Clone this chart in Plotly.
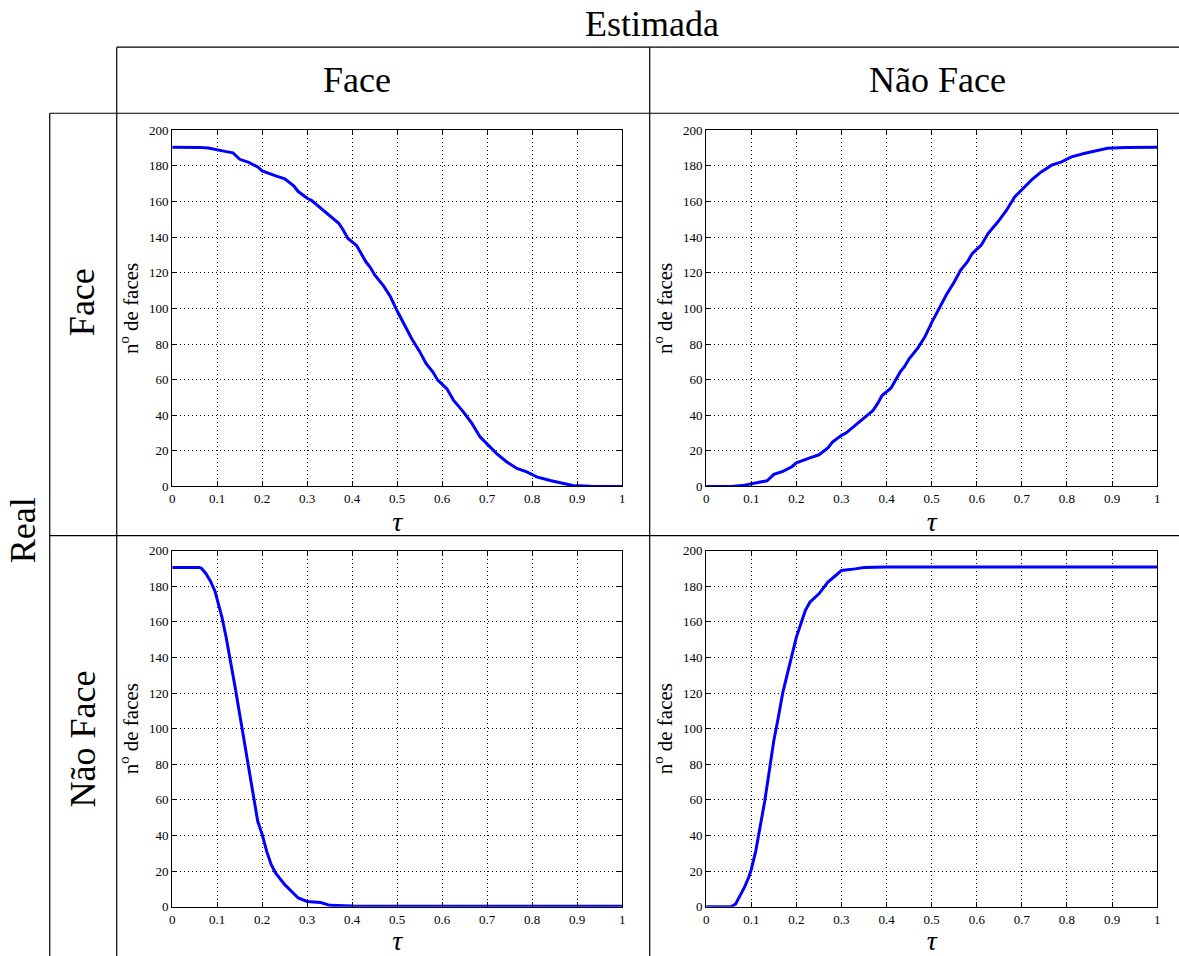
import plotly.graph_objects as go

# ---------------- data ----------------
tau_face_face = [0, 0.03, 0.06, 0.08, 0.10, 0.12, 0.135, 0.15, 0.17, 0.19, 0.20, 0.21, 0.23, 0.25,
                 0.27, 0.28, 0.30, 0.31, 0.33, 0.35, 0.37, 0.38, 0.39, 0.41, 0.42, 0.43, 0.44, 0.45,
                 0.47, 0.485, 0.50, 0.517, 0.532, 0.55, 0.564, 0.579, 0.59, 0.61, 0.625, 0.647,
                 0.666, 0.684, 0.699, 0.721, 0.743, 0.766, 0.788, 0.81, 0.84, 0.87, 0.89, 0.93, 1.0]
faces_face_face = [190.5, 190.5, 190.4, 190.0, 189.2, 188.0, 187.3, 183.7, 182.0, 179.4, 177.2, 176.4,
                   174.4, 172.7, 168.8, 165.6, 161.8, 160.5, 156.2, 152.1, 147.8, 144.0, 139.4, 135.2,
                   131.0, 126.3, 123.1, 118.8, 112.5, 106.5, 98.5, 90.6, 83.1, 75.7, 69.1, 64.4, 59.7,
                   55.0, 48.5, 41.9, 35.4, 27.9, 24.2, 18.5, 13.9, 10.1, 8.2, 5.4, 3.4, 1.5, 0.6, 0.2, 0.0]

tau_face_nonface = tau_face_face
faces_face_nonface = [0.0, 0.0, 0.1, 0.5, 1.3, 2.5, 3.2, 6.8, 8.5, 11.1, 13.3, 14.1, 16.1, 17.8, 21.7,
                      24.9, 28.7, 30.0, 34.3, 38.4, 42.7, 46.5, 51.1, 55.3, 59.5, 64.2, 67.4, 71.7,
                      78.0, 84.0, 92.0, 99.9, 107.4, 114.8, 121.4, 126.1, 130.8, 135.5, 142.0, 148.6,
                      155.1, 162.6, 166.3, 172.0, 176.6, 180.4, 182.3, 185.1, 187.1, 189.0, 189.9,
                      190.3, 190.5]

tau_nonface_face = [0, 0.06, 0.065, 0.075, 0.085, 0.095, 0.10, 0.11, 0.12, 0.13, 0.14, 0.15, 0.16,
                    0.17, 0.18, 0.19, 0.20, 0.21, 0.22, 0.23, 0.25, 0.27, 0.28, 0.30, 0.33, 0.35,
                    0.40, 1.0]
faces_nonface_face = [190.5, 190.5, 190.0, 187.0, 182.8, 177.2, 172.5, 163.1, 151.0, 137.9, 122.9,
                      107.9, 92.9, 76.1, 63.0, 48.0, 40.5, 31.1, 23.6, 18.9, 12.4, 7.7, 4.9, 3.0,
                      2.4, 0.8, 0.4, 0.3]

tau_nonface_nonface = [0, 0.055, 0.065, 0.075, 0.085, 0.095, 0.10, 0.11, 0.12, 0.13, 0.14, 0.15,
                       0.16, 0.17, 0.18, 0.19, 0.20, 0.21, 0.22, 0.23, 0.25, 0.27, 0.29, 0.30, 0.33,
                       0.35, 0.40, 1.0]
faces_nonface_nonface = [0.0, 0.0, 1.5, 6.0, 11.0, 17.0, 21.0, 31.4, 44.5, 59.5, 76.4, 93.3, 106.4,
                         120.4, 130.7, 142.0, 151.4, 158.9, 166.4, 171.0, 175.7, 182.3, 186.9, 188.8,
                         189.7, 190.5, 190.7, 190.7]

x_ticks = [0, 0.1, 0.2, 0.3, 0.4, 0.5, 0.6, 0.7, 0.8, 0.9, 1]
y_ticks = [0, 20, 40, 60, 80, 100, 120, 140, 160, 180, 200]

col_labels = ["Face", "Não Face"]
row_labels = ["Face", "Não Face"]
top_label = "Estimada"
side_label = "Real"
y_title = "n<sup>o</sup> de faces"
x_title = "<i>τ</i>"

# ---------------- layout helpers ----------------
W, H = 1179, 956
FONT = "Liberation Serif"
# small correction measured between page pixels and the captured picture
SX, BX = 0.995, 3.25
SY, BY = 0.9837, 6.8


def px(x):
    return ((x - BX) / SX) / W


def py(y):
    return 1 - ((y - BY) / SY) / H


panel_x = [(172.5, 622.5), (706.5, 1157.5)]
panel_y = [(130, 486), (550, 906)]

series = [
    (tau_face_face, faces_face_face, 0, 0),
    (tau_face_nonface, faces_face_nonface, 0, 1),
    (tau_nonface_face, faces_nonface_face, 1, 0),
    (tau_nonface_nonface, faces_nonface_nonface, 1, 1),
]

fig = go.Figure()
layout = {}
for i, (xs, ys, r, c) in enumerate(series):
    n = "" if i == 0 else str(i + 1)
    fig.add_trace(go.Scatter(x=xs, y=ys, mode="lines",
                             line=dict(color="rgb(0,0,255)", width=3),
                             xaxis="x" + n, yaxis="y" + n, showlegend=False,
                             hoverinfo="x+y"))
    x0, x1 = panel_x[c]
    y0, y1 = panel_y[r]
    common = dict(showline=True, linecolor="black", linewidth=1.3, mirror="ticks",
                  ticks="inside", ticklen=5, tickwidth=1, tickcolor="black",
                  showgrid=True, gridcolor="black", gridwidth=1, griddash="1px,3px",
                  zeroline=False, tickfont=dict(family=FONT, size=13, color="black"))
    layout["xaxis" + n] = dict(domain=[px(x0), px(x1)], anchor="y" + n, range=[0, 1],
                               tickvals=x_ticks, ticktext=[str(t) for t in x_ticks],
                               title=dict(text=x_title, standoff=4,
                                          font=dict(family=FONT, size=28, color="black")),
                               **common)
    layout["yaxis" + n] = dict(domain=[py(y1), py(y0)], anchor="x" + n, range=[0, 200],
                               tickvals=y_ticks,
                               title=dict(text=y_title, standoff=4,
                                          font=dict(family=FONT, size=21, color="black")),
                               **common)

fig.update_layout(**layout)

# table lines
lines = [
    (117, 47, 1185, 47),
    (50, 113, 1185, 113),
    (50, 535, 1185, 535),
    (117, 47, 117, 970),
    (650, 47, 650, 970),
    (50, 113, 50, 970),
]
shapes = [dict(type="line", xref="paper", yref="paper",
               x0=px(a), y0=py(b), x1=px(c), y1=py(d),
               line=dict(color="black", width=1.2)) for a, b, c, d in lines]

hdr = dict(family=FONT, size=36, color="black")
annotations = [
    dict(text=top_label, x=px(652), y=py(24), textangle=0),
    dict(text=col_labels[0], x=px(357), y=py(80), textangle=0),
    dict(text=col_labels[1], x=px(938), y=py(80), textangle=0),
    dict(text=side_label, x=px(23), y=py(530), textangle=-90),
    dict(text=row_labels[0], x=px(83), y=py(302), textangle=-90),
    dict(text=row_labels[1], x=px(83), y=py(738), textangle=-90),
]
for a in annotations:
    a.update(xref="paper", yref="paper", xanchor="center", yanchor="middle",
             showarrow=False, font=hdr)

fig.update_layout(width=W, height=H, margin=dict(l=0, r=0, t=0, b=0),
                  paper_bgcolor="white", plot_bgcolor="white",
                  shapes=shapes, annotations=annotations, showlegend=False)

fig.write_html("out.html", config={"displayModeBar": False},
               post_script="document.body.style.margin='0';document.body.style.overflow='hidden';")
